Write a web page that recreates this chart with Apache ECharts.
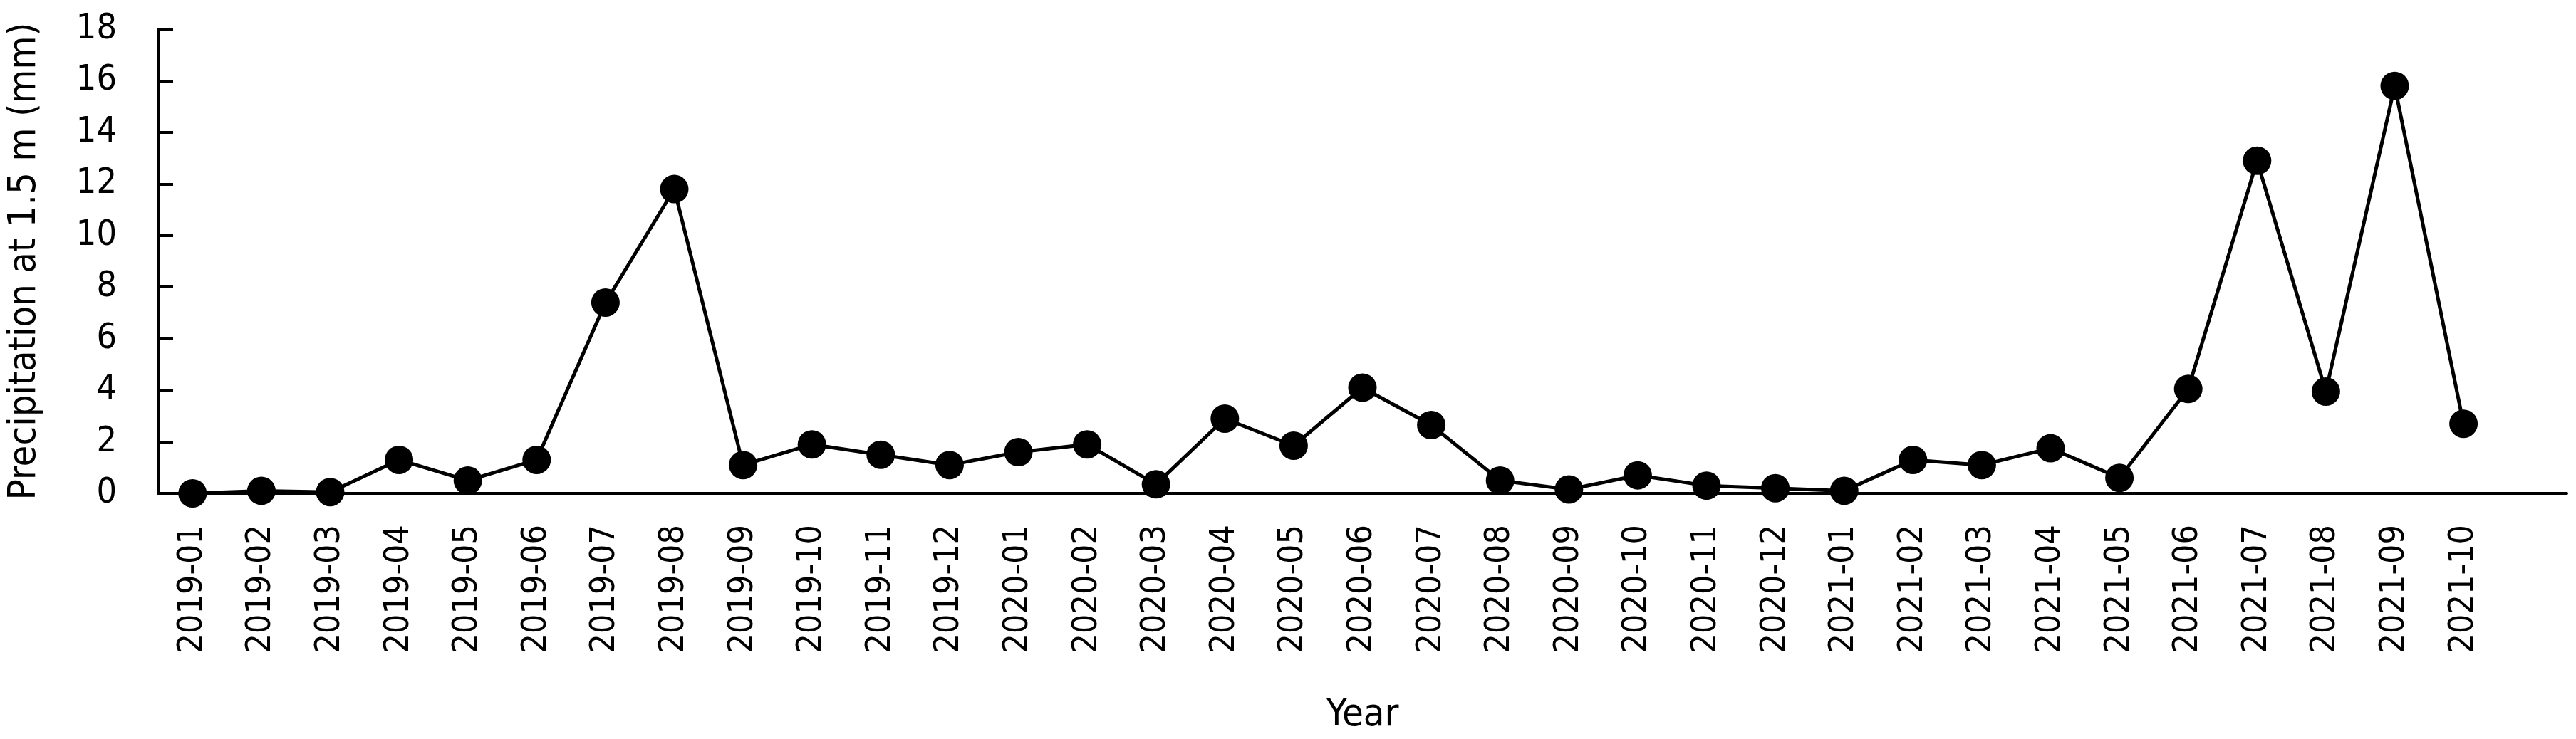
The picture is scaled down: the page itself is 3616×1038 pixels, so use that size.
<!DOCTYPE html>
<html>
<head>
<meta charset="utf-8">
<script src="https://cdn.jsdelivr.net/npm/echarts@6/dist/echarts.min.js"></script>
<style>
  html, body { margin: 0; padding: 0; background: #fff; }
  #container { width: 3616px; height: 1038px; }
</style>
</head>
<body>
<div id="container"></div>
<script>
// months, plus one empty slot at the end as in the original axis
var months = [
  '2019-01', '2019-02', '2019-03', '2019-04', '2019-05', '2019-06',
  '2019-07', '2019-08', '2019-09', '2019-10', '2019-11', '2019-12',
  '2020-01', '2020-02', '2020-03', '2020-04', '2020-05', '2020-06',
  '2020-07', '2020-08', '2020-09', '2020-10', '2020-11', '2020-12',
  '2021-01', '2021-02', '2021-03', '2021-04', '2021-05', '2021-06',
  '2021-07', '2021-08', '2021-09', '2021-10', ''
]
var precip = [
  0.0, 0.1, 0.05, 1.3, 0.5, 1.3,
  7.4, 11.8, 1.1, 1.9, 1.5, 1.1,
  1.6, 1.9, 0.35, 2.9, 1.85, 4.1,
  2.65, 0.5, 0.15, 0.7, 0.3, 0.2,
  0.1, 1.3, 1.1, 1.75, 0.6, 4.05,
  12.9, 3.95, 15.8, 2.7
]

var font = '"Liberation Sans Narrow", "DejaVu Sans Condensed", "Liberation Sans", sans-serif'

var myChart = echarts.init(document.getElementById('container'))
var option = {
  animation: false,
  backgroundColor: '#fff',
  grid: { left: 218, right: 13, top: 41, bottom: 345 },
  xAxis: {
    type: 'category',
    data: months,
    boundaryGap: true,
    name: 'Year',
    nameLocation: 'middle',
    nameGap: 285,
    nameTextStyle: { fontFamily: font, fontSize: 54, color: '#000' },
    axisLine: { lineStyle: { color: '#000', width: 4 } },
    axisTick: { inside: true, length: 20, lineStyle: { color: '#000', width: 4 } },
    axisLabel: { interval: 0, rotate: 90, margin: 44, fontFamily: font, fontSize: 48, color: '#000' },
    splitLine: { show: false }
  },
  yAxis: {
    type: 'value',
    min: 0,
    max: 18,
    interval: 2,
    name: 'Precipitation at 1.5 m (mm)',
    nameLocation: 'middle',
    nameGap: 160,
    nameTextStyle: { fontFamily: font, fontSize: 54, color: '#000' },
    axisLine: { show: true, lineStyle: { color: '#000', width: 4 } },
    axisTick: { show: true, inside: true, length: 21, lineStyle: { color: '#000', width: 4 } },
    axisLabel: { margin: 58, fontFamily: font, fontSize: 50, color: '#000' },
    splitLine: { show: false }
  },
  series: [{
    type: 'line',
    data: precip,
    symbol: 'circle',
    symbolSize: 40,
    itemStyle: { color: '#000' },
    lineStyle: { color: '#000', width: 5 }
  }]
}
myChart.setOption(option)
</script>
</body>
</html>
